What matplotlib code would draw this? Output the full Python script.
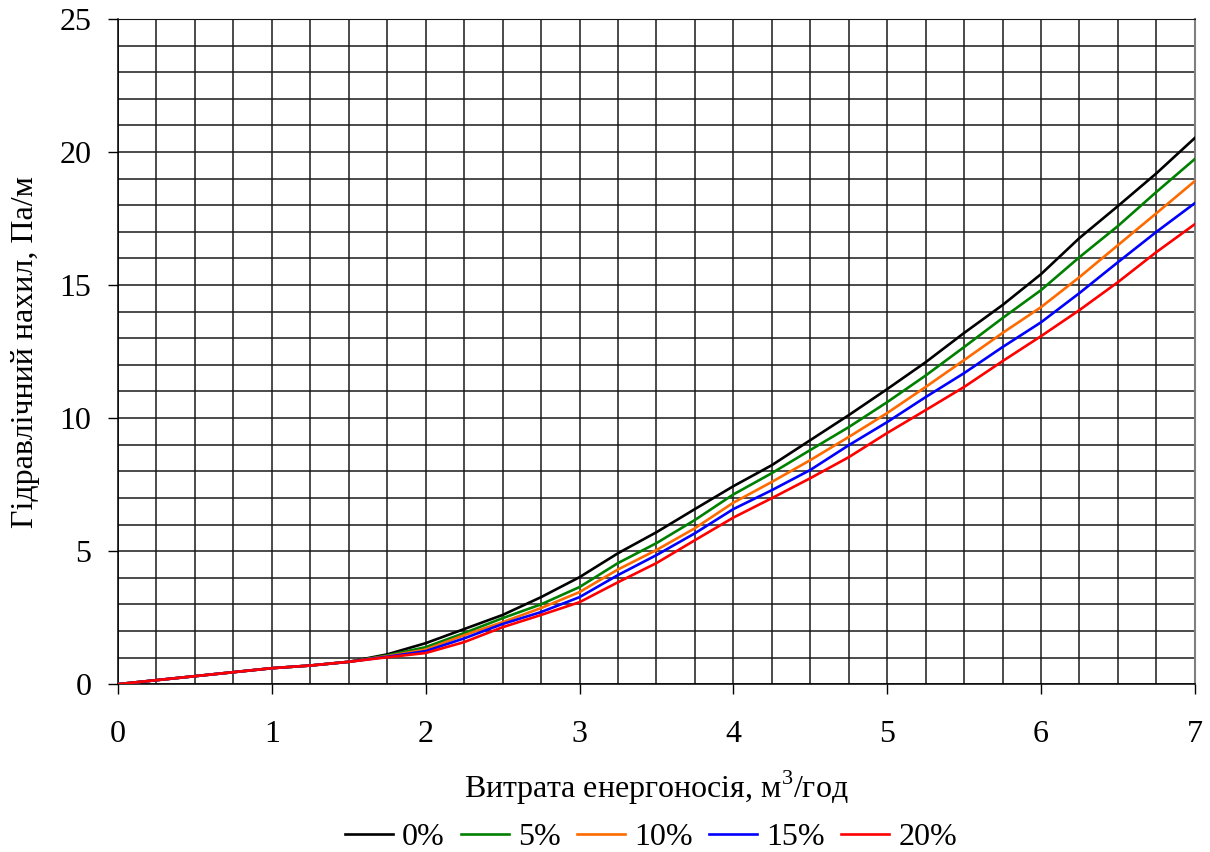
import matplotlib
matplotlib.use('Agg')
import matplotlib.pyplot as plt
import numpy as np

# flow rate, m3/h
flow = [0, 0.25, 0.5, 0.75, 1.0, 1.25, 1.5, 1.75,
        2.0, 2.25, 2.5, 2.75, 3.0, 3.25, 3.5, 3.75,
        4.0, 4.25, 4.5, 4.75, 5.0, 5.25, 5.5, 5.75,
        6.0, 6.25, 6.5, 6.75, 7.0]

slope_0 = [0, 0.15, 0.3, 0.45, 0.6, 0.7, 0.84, 1.12,
           1.54, 2.07, 2.6, 3.27, 4.02, 4.92, 5.71, 6.58,
           7.44, 8.23, 9.17, 10.11, 11.09, 12.1, 13.2, 14.25,
           15.41, 16.77, 17.97, 19.2, 20.53]
slope_5 = [0, 0.15, 0.3, 0.45, 0.6, 0.7, 0.84, 1.08,
           1.39, 1.92, 2.48, 3.0, 3.65, 4.55, 5.3, 6.17,
           7.13, 7.93, 8.8, 9.66, 10.6, 11.6, 12.67, 13.76,
           14.81, 16.05, 17.22, 18.5, 19.74]
slope_10 = [0, 0.15, 0.3, 0.45, 0.6, 0.7, 0.84, 1.05,
            1.3, 1.84, 2.33, 2.86, 3.46, 4.31, 5.04, 5.86,
            6.82, 7.6, 8.42, 9.29, 10.19, 11.17, 12.18, 13.2,
            14.17, 15.3, 16.5, 17.7, 18.91]
slope_15 = [0, 0.15, 0.3, 0.45, 0.6, 0.7, 0.84, 1.03,
            1.24, 1.72, 2.26, 2.71, 3.27, 4.1, 4.85, 5.67,
            6.58, 7.29, 8.05, 8.98, 9.85, 10.79, 11.69, 12.67,
            13.6, 14.7, 15.86, 17.0, 18.08]
slope_20 = [0, 0.15, 0.3, 0.45, 0.6, 0.7, 0.84, 1.01,
            1.17, 1.58, 2.14, 2.6, 3.08, 3.83, 4.55, 5.41,
            6.26, 6.99, 7.74, 8.53, 9.44, 10.3, 11.17, 12.14,
            13.08, 14.06, 15.11, 16.24, 17.29]

labels = ['0%', '5%', '10%', '15%', '20%']
colors = ['#000000', '#008000', '#ff6a00', '#0000ff', '#ff0000']

plt.rcParams['font.family'] = ['Liberation Serif', 'DejaVu Serif']
plt.rcParams['mathtext.fontset'] = 'custom'
plt.rcParams['mathtext.rm'] = 'Liberation Serif'

fig = plt.figure(figsize=(12.1, 8.52), dpi=100)
ax = fig.add_axes([0.0975, 0.197, 0.89, 0.7807])

for ys, lab, c in zip([slope_0, slope_5, slope_10, slope_15, slope_20], labels, colors):
    ax.plot(flow, ys, color=c, lw=1.9, label=lab, zorder=3)

ax.set_xlim(0, 7)
ax.set_ylim(0, 25)
ax.set_xticks(np.arange(0, 8, 1))
ax.set_yticks(np.arange(0, 30, 5))
ax.set_xticks(np.arange(0, 7.01, 0.25), minor=True)
ax.set_yticks(np.arange(0, 25.01, 1), minor=True)
ax.grid(which='both', color='#1a1a1a', lw=1.1)
ax.set_axisbelow(True)

ax.tick_params(axis='both', which='major', direction='out', length=7,
               width=1.0, labelsize=23, color='black')
ax.tick_params(axis='x', which='major', pad=19)
ax.tick_params(axis='y', which='major', pad=12)
ax.tick_params(which='minor', length=0)

for side in ['left', 'bottom']:
    ax.spines[side].set_color('black')
    ax.spines[side].set_linewidth(1.1)
ax.spines['top'].set_color('#1a1a1a')
ax.spines['right'].set_color('#808080')
ax.spines['right'].set_linewidth(1.5)

ax.set_xlabel('Витрата енергоносія, м$^{\\mathrm{3}}$/год', fontsize=23, labelpad=14)
ax.set_ylabel('Гідравлічний нахил, Па/м', fontsize=23, labelpad=14)

ax.legend(loc='center', bbox_to_anchor=(0.495, -0.23), ncol=5,
          frameon=False, fontsize=23, handlelength=1.5, handletextpad=0.3,
          columnspacing=0.5, borderpad=0, borderaxespad=0)

fig.savefig('out.png', dpi=100)
